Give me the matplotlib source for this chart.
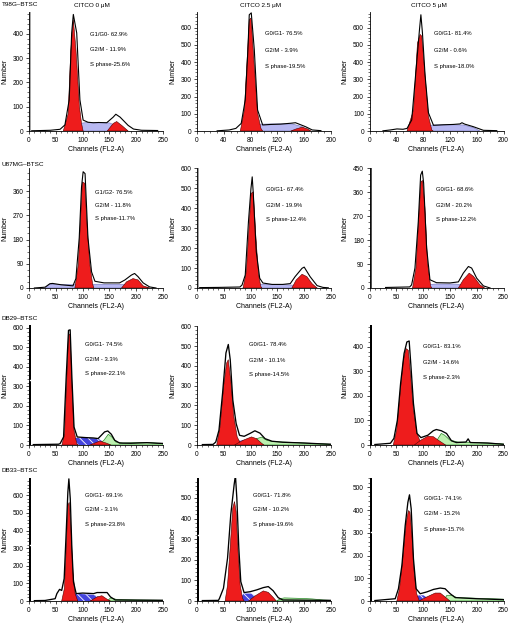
import matplotlib.pyplot as plt
from matplotlib.ticker import MultipleLocator, AutoMinorLocator

plt.rcParams['font.family'] = ['Liberation Sans', 'DejaVu Sans']
plt.rcParams['hatch.linewidth'] = 0.6

# ---- data: (channel, count) points ----
# T98G-BTSC
t98g_0_line = [(5, 1), (24, 2), (40, 3), (58, 7), (67, 25), (75, 128), (79.6, 404), (82.7, 480), (89, 404), (95, 128),
               (101, 45), (110, 36), (120, 34), (130, 35), (145, 34), (157, 57), (162, 69), (170, 57), (185, 23),
               (195, 8), (210, 3), (240, 2)]
t98g_0_g1 = [(64, 0), (73, 70), (78, 333), (82.7, 459), (87.7, 333), (94, 103), (98, 31), (101, 0)]
t98g_0_g2 = [(146, 0), (157, 31), (163.6, 39), (173, 23), (185, 0)]
t98g_0_s = [(67, 0), (80, 20), (92, 31), (110, 35), (130, 35), (151, 33), (170, 12), (182, 0)]

t98g_25_line = [(30, 1), (48, 6), (58, 15), (66, 44), (72, 180), (76, 472), (78, 674), (81, 685), (85.5, 472),
                (90.4, 122), (98, 35), (110, 38), (125, 40), (140, 45), (147, 48), (162, 25), (172, 6), (185, 2)]
t98g_25_g1 = [(64.7, 0), (70.7, 122), (75.6, 472), (78, 646), (80.7, 655), (85.5, 378), (90.4, 105), (95.4, 15), (98, 0)]
t98g_25_g2 = [(140, 0), (148, 12), (157, 22), (165, 12), (170, 0)]
t98g_25_s = [(65, 0), (80, 25), (88, 39), (110, 41), (142, 41), (157, 25), (167, 0)]

t98g_5_line = [(20, 1), (31, 6), (41, 12), (50, 10), (56, 15), (63, 64), (70, 378), (74.6, 588), (76.7, 674), (79, 570),
               (83, 320), (88, 105), (95.5, 33), (110, 36), (125, 38), (135, 41), (138, 48), (142, 40), (155, 25),
               (170, 4), (190, 2)]
t98g_5_g1 = [(56, 0), (65.7, 122), (71.6, 510), (75.6, 560), (78, 550), (83, 320), (88, 85), (93, 6), (95, 0)]
t98g_5_g2 = []
t98g_5_s = [(56, 0), (70, 15), (83, 29), (95.5, 35), (120, 36), (140, 35), (155, 20), (165, 0)]

# U87MG-BTSC
u87_0_line = [(10, 0), (30, 3), (39, 16), (44, 17), (60, 12), (82, 8), (87.5, 35), (93.7, 186), (98, 375), (101, 432),
              (104.6, 425), (110, 186), (116.7, 60), (123, 25), (140, 19), (169, 19), (179, 30), (191, 48), (197, 54),
              (203.5, 42), (213, 19), (225, 4), (237, 0)]
u87_0_g1 = [(85.6, 0), (92, 86), (96, 249), (99.6, 394), (104, 389), (108.6, 224), (113.6, 86), (118.6, 16), (121, 0)]
u87_0_g2 = [(172.6, 0), (182, 23), (194, 35), (203.5, 30), (213, 8), (225, 0)]
u87_0_s = [(30, 0), (38, 14), (80, 12), (120, 14), (170, 14), (200, 8), (225, 0)]

u87_25_line = [(5, 2), (40, 3), (80, 5), (84, 15), (90, 65), (96, 333), (100.7, 500), (103, 558), (105, 475),
               (110.6, 182), (117, 49), (123, 25), (140, 18), (160, 18), (174, 22), (183, 57), (196, 99), (200, 105),
               (211, 57), (224, 12), (235, 3), (245, 1)]
u87_25_g1 = [(86, 0), (92, 82), (97.7, 333), (101, 475), (105, 483), (110, 250), (115, 65), (119, 8), (121, 0)]
u87_25_g2 = [(177, 0), (185, 40), (196, 69), (205, 57), (214.6, 22), (224, 0)]
u87_25_s = [(85, 0), (100, 12), (120, 18), (150, 18), (175, 15), (200, 8), (225, 0)]

u87_5_line = [(30, 2), (75, 4), (78.6, 12), (84.8, 75), (91, 250), (95.4, 425), (98.5, 440), (101, 395), (106.6, 150),
              (112.8, 31), (125, 20), (150, 19), (165.8, 23), (175, 56), (184.5, 81), (190.6, 75), (200, 37),
              (212.5, 8), (225, 0)]
u87_5_g1 = [(80.4, 0), (86.7, 75), (92.2, 275), (96, 400), (99, 405), (103.5, 300), (108.5, 90), (114, 8), (116, 0)]
u87_5_g2 = [(165.8, 0), (175, 31), (186, 56), (194, 44), (206, 12), (215, 0)]
u87_5_s = [(80, 0), (100, 12), (125, 15), (160, 15), (185, 10), (210, 0)]

# DB29-BTSC
db29_0_line = [(8, 2), (30, 3), (55, 4), (58, 7), (64.5, 41), (69.4, 348), (73.7, 587), (76.8, 590), (80, 348), (84, 92),
               (90, 41), (105, 38), (120, 36), (129, 33), (135, 50), (141, 67), (147, 72), (153.6, 55), (160, 24),
               (169, 10), (190, 9), (220, 12), (240, 9), (250, 8)]
db29_0_g1 = [(61.5, 0), (66.3, 58), (70.6, 348), (73.7, 561), (76.8, 570), (80, 314), (84, 75), (89, 7), (92, 0)]
db29_0_g2 = [(113.6, 0), (132, 20), (144, 10), (153, 0)]
db29_0_s = [(70.6, 0), (86, 36), (110, 36), (129, 33), (138, 17), (147, 0)]
db29_0_deb = [(130, 0), (140, 25), (148, 55), (155, 40), (162, 15), (175, 10), (220, 13), (250, 8), (250, 0)]

db29_25_line = [(10, 2), (30, 3), (35, 15), (41, 75), (47.7, 262), (54, 466), (58.4, 509), (62, 432), (66.8, 228),
                (73, 109), (79.4, 49), (88, 44), (98.5, 58), (108, 72), (117.5, 60), (127, 32), (140, 19), (160, 14),
                (180, 12), (200, 10), (230, 6), (250, 4)]
db29_25_g1 = [(36.8, 0), (43, 92), (49.6, 296), (55.3, 415), (58.4, 432), (63.5, 313), (68.7, 143), (75, 41), (82.6, 0)]
db29_25_g2 = [(70, 0), (86, 24), (101.7, 41), (111, 32), (120.8, 8), (125, 0)]
db29_25_s = [(65, 0), (75, 20), (88, 25), (100, 15), (115, 0)]
db29_25_deb = [(102, 0), (111, 32), (121, 40), (130, 24), (140, 18), (160, 15), (180, 13), (200, 10), (240, 5),
               (250, 3), (250, 0)]

db29_5_line = [(10, 2), (39, 7), (45.6, 27), (52, 101), (58, 250), (64.5, 372), (69.7, 419), (74, 423), (77, 331),
               (82, 169), (88.6, 47), (96, 30), (109, 40), (119, 58), (124.7, 63), (134, 58), (143.7, 47), (153, 17),
               (162, 10), (180, 12), (184, 25), (188, 10), (220, 8), (250, 3)]
db29_5_g1 = [(44.4, 0), (50.7, 61), (57, 210), (63, 345), (68.3, 392), (72.5, 385), (77, 277), (82, 142), (88.6, 47),
             (96, 7), (100, 0)]
db29_5_g2 = [(83.5, 0), (96, 20), (109, 36), (119, 34), (128, 20), (137, 7), (142, 0)]
db29_5_s = []
db29_5_deb = [(122, 0), (128, 27), (134, 47), (140, 40), (150, 20), (165, 12), (200, 10), (240, 6), (250, 4), (250, 0)]

# DB33-BTSC
db33_0_line = [(10, 2), (30, 3), (48.8, 13), (52, 42), (57, 66), (61, 60), (65.6, 127), (69.4, 390), (72.5, 617),
               (74.4, 693), (77, 580), (80, 297), (83, 108), (88, 42), (100, 45), (120.6, 42), (127, 48), (145.7, 48),
               (152, 23), (161, 6), (200, 5), (250, 4)]
db33_0_g1 = [(61, 0), (66, 70), (69.4, 297), (72.5, 542), (75, 560), (78, 428), (82, 164), (86, 42), (91, 0)]
db33_0_g2 = [(114, 0), (127, 23), (136, 30), (145.7, 10), (152, 0)]
db33_0_s = [(75, 0), (86, 42), (95.6, 40), (120, 35), (133, 20), (142, 0)]
db33_0_deb = [(146, 0), (152, 17), (165, 8), (200, 6), (250, 4), (250, 0)]

db33_25_line = [(10, 2), (40, 3), (42, 13), (49.4, 62), (57, 208), (63, 419), (69.3, 565), (71.7, 610), (74.3, 500),
                (78, 257), (81.7, 94), (87.8, 41), (99, 45), (111.4, 54), (123.7, 65), (133, 70), (142, 50),
                (151.6, 16), (160, 5), (200, 4), (250, 3)]
db33_25_g1 = [(52.5, 0), (57, 78), (61.8, 257), (66.8, 451), (70, 483), (73, 434), (76.7, 240), (80.5, 78), (85, 13),
              (88, 0)]
db33_25_g2 = [(96, 0), (108, 24), (123.7, 49), (133, 42), (142, 18), (148, 0)]
db33_25_s = [(77, 0), (87, 36), (101, 36), (111, 20), (120, 0)]
db33_25_deb = [(148, 0), (157, 12), (163, 15), (200, 12), (215, 10), (235, 5), (250, 3), (250, 0)]

db33_5_line = [(10, 2), (48, 10), (54, 54), (60.5, 157), (66.6, 332), (71.6, 434), (74.6, 467), (77.8, 405), (82, 186),
               (87, 54), (94.6, 32), (107, 40), (119.4, 51), (132, 57), (141, 54), (150.6, 32), (160, 15), (200, 10),
               (250, 6)]
db33_5_g1 = [(51, 0), (56, 54), (62, 186), (68.5, 347), (72.8, 398), (75.5, 390), (78.8, 303), (83.4, 127), (88, 32),
             (93, 0)]
db33_5_g2 = [(92, 0), (107, 18), (122.6, 35), (132, 35), (141, 18), (150, 0)]
db33_5_s = [(75, 0), (92, 25), (100.8, 25), (110, 10), (119, 0)]
db33_5_deb = [(138, 0), (144.4, 25), (154, 25), (163, 15), (200, 12), (250, 8), (250, 0)]

# counts of the debris spike at channel 0 (off scale) and the notch in it
bar_notch = [None, None, None, None, None, None, 331, None, None, 315, 321, 303]

stats = [
    ["G1/G0- 62.9%", "G2/M - 11.9%", "S phase-25.6%"],
    ["G0/G1- 76.5%", "G2/M - 3.9%", "S phase-19.5%"],
    ["G0/G1- 81.4%", "G2/M - 0.6%", "S phase-18.0%"],
    ["G1/G2- 76.5%", "G2/M - 11.8%", "S phase-11.7%"],
    ["G0/G1- 67.4%", "G2/M - 19.9%", "S phase-12.4%"],
    ["G0/G1- 68.6%", "G2/M - 20.2%", "S phase-12.2%"],
    ["G0/G1- 74.5%", "G2/M - 3.3%", "S phase-22.1%"],
    ["G0/G1- 78.4%", "G2/M - 10.1%", "S phase-14.5%"],
    ["G0/G1- 83.1%", "G2/M - 14.6%", "S phase-2.3%"],
    ["G0/G1- 69.1%", "G2/M - 3.1%", "S phase-23.8%"],
    ["G0/G1- 71.8%", "G2/M - 10.2%", "S phase-19.6%"],
    ["G0/G1- 74.1%", "G2/M - 15.2%", "S phase-15.7%"],
]
row_labels = ["T98G\u2013BTSC", "U87MG\u2013BTSC", "DB29\u2013BTSC", "DB33\u2013BTSC"]
col_labels = ["CITCO 0 \u03bcM", "CITCO 2.5 \u03bcM", "CITCO 5 \u03bcM"]

y_max = [490, 690, 690, 444, 600, 450, 612, 605, 486, 698, 597, 541]
y_step = [100, 100, 100, 90, 100, 90, 100, 100, 100, 100, 100, 100]
x_max = [250, 200, 200, 250, 250, 250, 250, 250, 250, 250, 250, 250]
x_step = [50, 40, 40, 50, 50, 50, 50, 50, 50, 50, 50, 50]

lines = [t98g_0_line, t98g_25_line, t98g_5_line, u87_0_line, u87_25_line, u87_5_line,
         db29_0_line, db29_25_line, db29_5_line, db33_0_line, db33_25_line, db33_5_line]
g1s = [t98g_0_g1, t98g_25_g1, t98g_5_g1, u87_0_g1, u87_25_g1, u87_5_g1,
       db29_0_g1, db29_25_g1, db29_5_g1, db33_0_g1, db33_25_g1, db33_5_g1]
g2s = [t98g_0_g2, t98g_25_g2, t98g_5_g2, u87_0_g2, u87_25_g2, u87_5_g2,
       db29_0_g2, db29_25_g2, db29_5_g2, db33_0_g2, db33_25_g2, db33_5_g2]
ss = [t98g_0_s, t98g_25_s, t98g_5_s, u87_0_s, u87_25_s, u87_5_s,
      db29_0_s, db29_25_s, db29_5_s, db33_0_s, db33_25_s, db33_5_s]
debs = [[], [], [], [], [], [], db29_0_deb, db29_25_deb, db29_5_deb, db33_0_deb, db33_25_deb, db33_5_deb]

# ---- layout / style ----
bar_color = ['#a8a8a8', None, None, None, '#a0a0a0', '#505050', 'black', None, 'black', 'black', 'black', 'black']
text_x = [0.455, 0.507, 0.485, 0.49, 0.515, 0.494, 0.418, 0.386, 0.40, 0.42, 0.416, 0.403]
text_y = [[0.807, 0.681, 0.563], [0.817, 0.676, 0.544], [0.817, 0.676, 0.544],
          [0.796, 0.694, 0.581], [0.825, 0.693, 0.576], [0.825, 0.69, 0.57],
          [0.839, 0.716, 0.596], [0.84, 0.707, 0.588], [0.828, 0.694, 0.569],
          [0.857, 0.74, 0.62], [0.858, 0.742, 0.619], [0.831, 0.709, 0.582]]
col_left = [29, 197, 369.5]
row_bottom = [131, 288, 445, 601]
row_height = [119, 119.5, 119.5, 123]
W, H = 513, 625

fig = plt.figure(figsize=(W / 100, H / 100), dpi=100)

for i in range(12):
    r, c = divmod(i, 3)
    ax = fig.add_axes([col_left[c] / W, 1 - row_bottom[r] / H, 134 / W, row_height[r] / H])

    if bar_color[i]:
        ax.bar([2], [y_max[i] * 1.2], width=4, color=bar_color[i], zorder=1)
        if bar_notch[i]:
            ax.plot([2.5, 4], [bar_notch[i], bar_notch[i]], color='white', lw=1.0, zorder=6)

    if ss[i]:
        xs, ys = zip(*ss[i])
        if r < 2:
            ax.fill(xs, ys, facecolor='#b8b8f2', edgecolor='#7070b8', lw=0.4, zorder=2)
        else:
            ax.fill(xs, ys, facecolor='#4444dd', edgecolor='none', zorder=2)
            ax.fill(xs, ys, facecolor='none', edgecolor='white', hatch='\\\\\\\\', lw=0, zorder=2.1)
    if debs[i]:
        xs, ys = zip(*debs[i])
        ax.fill(xs, ys, facecolor='#bdf0b0', edgecolor='#2a8a2a', lw=0.5, zorder=2)
    for poly in (g1s[i], g2s[i]):
        if poly:
            xs, ys = zip(*poly)
            ax.fill(xs, ys, facecolor='#ee1c1c', edgecolor='#500000', lw=0.4, zorder=3)

    xs, ys = zip(*lines[i])
    ax.plot(xs, ys, color='black', lw=0.8 if r < 2 else 0.95, zorder=4)

    ax.set_xlim(0, x_max[i])
    ax.set_ylim(0, y_max[i])
    ax.xaxis.set_major_locator(MultipleLocator(x_step[i]))
    ax.yaxis.set_major_locator(MultipleLocator(y_step[i]))
    ax.xaxis.set_minor_locator(AutoMinorLocator())
    ax.yaxis.set_minor_locator(AutoMinorLocator())
    for s in ('top', 'right'):
        ax.spines[s].set_visible(False)
    for s in ('left', 'bottom'):
        ax.spines[s].set_linewidth(0.6)
    ax.tick_params(which='major', direction='out', length=2.5, width=0.5, labelsize=4.7, pad=1.5)
    ax.tick_params(which='minor', direction='out', length=1.4, width=0.4)

    ax.set_xlabel('Channels (FL2-A)', fontsize=5)
    ax.xaxis.set_label_coords(0.5, -0.125)
    ax.set_ylabel('Number', fontsize=5)
    ax.yaxis.set_label_coords(-0.155, 0.5)

    for k in range(3):
        ax.text(text_x[i], text_y[i][k], stats[i][k], transform=ax.transAxes,
                fontsize=4.2, ha='left', va='center')

row_label_y = [5, 165, 319, 470]
for r in range(4):
    fig.text(2 / W, 1 - row_label_y[r] / H, row_labels[r], fontsize=4.6, ha='left', va='center')
col_label_x = [92, 261, 429]
for c in range(3):
    fig.text(col_label_x[c] / W, 1 - 5 / H, col_labels[c], fontsize=4.6, ha='center', va='center')

fig.savefig('out.png', dpi=100)
